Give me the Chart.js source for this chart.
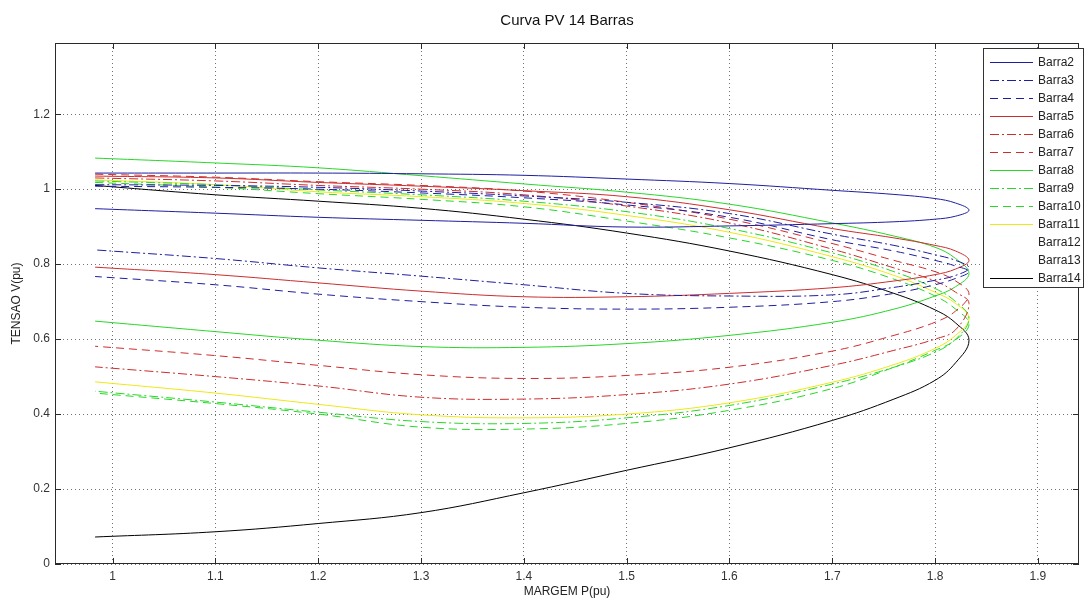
<!DOCTYPE html>
<html lang="pt">
<head>
<meta charset="UTF-8">
<title>Curva PV 14 Barras</title>
<script src="https://cdn.jsdelivr.net/npm/chart.js@4.4.0/dist/chart.umd.min.js"></script>
<style>
  body { margin: 0; background: #fff; }
  canvas { display: block; }
</style>
</head>
<body>
<canvas id="pv" width="1086" height="601"></canvas>
<script>
// margem P (pu): ramo superior ate o nariz, depois o ramo inferior de volta
const margemP = [0.983, 1.1, 1.2, 1.3, 1.4, 1.5, 1.6, 1.7, 1.76, 1.8, 1.82,
                 1.833,
                 1.82, 1.8, 1.76, 1.7, 1.6, 1.5, 1.4, 1.3, 1.2, 1.1, 0.983];

// tensao V (pu) de cada barra, mesma ordem de margemP
const barra2  = [1.043, 1.043, 1.043, 1.041, 1.037, 1.027, 1.015, 0.997, 0.986, 0.975, 0.963,
                 0.944,
                 0.928, 0.920, 0.913, 0.908, 0.902, 0.899, 0.909, 0.917, 0.925, 0.936, 0.948];
const barra3  = [1.012, 1.010, 1.005, 0.995, 0.982, 0.965, 0.935, 0.880, 0.850, 0.825, 0.810,
                 0.790,
                 0.770, 0.757, 0.738, 0.718, 0.715, 0.722, 0.745, 0.768, 0.790, 0.815, 0.838];
const barra4  = [1.008, 1.005, 1.000, 0.990, 0.977, 0.958, 0.925, 0.865, 0.835, 0.810, 0.795,
                 0.780,
                 0.762, 0.745, 0.722, 0.700, 0.685, 0.680, 0.685, 0.700, 0.720, 0.745, 0.767];
const barra5  = [1.035, 1.030, 1.018, 1.008, 0.996, 0.980, 0.945, 0.895, 0.870, 0.850, 0.835,
                 0.810,
                 0.787, 0.772, 0.755, 0.737, 0.722, 0.713, 0.713, 0.728, 0.750, 0.772, 0.792];
const barra6  = [1.030, 1.022, 1.010, 1.000, 0.985, 0.955, 0.910, 0.840, 0.790, 0.755, 0.725,
                 0.695,
                 0.625, 0.600, 0.570, 0.530, 0.480, 0.452, 0.440, 0.445, 0.475, 0.500, 0.526];
const barra7  = [1.040, 1.032, 1.020, 1.010, 0.995, 0.965, 0.920, 0.855, 0.810, 0.780, 0.755,
                 0.720,
                 0.675, 0.645, 0.610, 0.568, 0.525, 0.503, 0.495, 0.505, 0.530, 0.556, 0.581];
const barra8  = [1.083, 1.070, 1.057, 1.036, 1.014, 0.992, 0.960, 0.910, 0.875, 0.845, 0.815,
                 0.775,
                 0.740, 0.715, 0.680, 0.645, 0.610, 0.588, 0.578, 0.580, 0.597, 0.620, 0.648];
const barra9  = [1.022, 1.012, 0.998, 0.985, 0.968, 0.940, 0.895, 0.830, 0.780, 0.735, 0.700,
                 0.655,
                 0.600, 0.565, 0.525, 0.480, 0.423, 0.390, 0.375, 0.380, 0.405, 0.432, 0.461];
const barra10 = [1.018, 1.005, 0.988, 0.973, 0.953, 0.915, 0.870, 0.810, 0.760, 0.715, 0.680,
                 0.640,
                 0.598, 0.570, 0.525, 0.468, 0.410, 0.375, 0.360, 0.365, 0.400, 0.428, 0.456];
const barra11 = [1.025, 1.012, 0.993, 0.980, 0.962, 0.930, 0.885, 0.820, 0.770, 0.725, 0.695,
                 0.655,
                 0.610, 0.575, 0.532, 0.485, 0.430, 0.400, 0.390, 0.398, 0.426, 0.456, 0.486];
const barra12 = [];
const barra13 = [];
const barra14 = [1.010, 0.985, 0.968, 0.949, 0.920, 0.883, 0.835, 0.772, 0.722, 0.678, 0.643,
                 0.597,
                 0.537, 0.490, 0.440, 0.383, 0.310, 0.250, 0.190, 0.137, 0.108, 0.086, 0.072];

const xTicks = [1, 1.1, 1.2, 1.3, 1.4, 1.5, 1.6, 1.7, 1.8, 1.9];
const yTicks = [0, 0.2, 0.4, 0.6, 0.8, 1, 1.2];

const azul = 'rgb(30,30,160)', vermelho = 'rgb(205,45,45)', verde = 'rgb(40,215,40)',
      amarelo = 'rgb(238,232,20)', preto = '#000';
const solido = [], tracejado = [8, 5], tracoPonto = [9, 3, 2, 3];

const series = [
  ['Barra2', barra2, azul, solido],
  ['Barra3', barra3, azul, tracoPonto],
  ['Barra4', barra4, azul, tracejado],
  ['Barra5', barra5, vermelho, solido],
  ['Barra6', barra6, vermelho, tracoPonto],
  ['Barra7', barra7, vermelho, tracejado],
  ['Barra8', barra8, verde, solido],
  ['Barra9', barra9, verde, tracoPonto],
  ['Barra10', barra10, verde, tracejado],
  ['Barra11', barra11, amarelo, solido],
  ['Barra12', barra12, 'rgba(0,0,0,0)', solido],
  ['Barra13', barra13, 'rgba(0,0,0,0)', solido],
  ['Barra14', barra14, preto, solido]
];

const datasets = series.map(function (s) {
  return {
    label: s[0],
    data: s[1].map(function (v, i) { return { x: margemP[i], y: v }; }),
    borderColor: s[2],
    borderDash: s[3],
    borderWidth: 1,
    showLine: true,
    pointRadius: 0,
    tension: 0.4
  };
});

// moldura, marcas internas e legenda no estilo do matlab
const molduraPlugin = {
  id: 'moldura',
  afterDraw(chart) {
    const { ctx, chartArea: a, scales } = chart;
    ctx.save();
    ctx.strokeStyle = '#2a2a2a';
    ctx.lineWidth = 1;
    ctx.strokeRect(a.left + 0.5, a.top + 0.5, a.right - a.left - 1, a.bottom - a.top - 1);
    ctx.beginPath();
    xTicks.forEach(function (v) {
      const px = Math.round(scales.x.getPixelForValue(v)) + 0.5;
      ctx.moveTo(px, a.bottom); ctx.lineTo(px, a.bottom - 6);
      ctx.moveTo(px, a.top); ctx.lineTo(px, a.top + 6);
    });
    yTicks.forEach(function (v) {
      const py = Math.round(scales.y.getPixelForValue(v)) + 0.5;
      ctx.moveTo(a.left, py); ctx.lineTo(a.left + 6, py);
      ctx.moveTo(a.right, py); ctx.lineTo(a.right - 6, py);
    });
    ctx.stroke();

    // legenda
    const lx = 983, ly = 48, lw = 101, lh = 240;
    ctx.fillStyle = '#fff';
    ctx.fillRect(lx, ly, lw, lh);
    ctx.strokeStyle = '#333';
    ctx.strokeRect(lx + 0.5, ly + 0.5, lw - 1, lh - 1);
    ctx.font = '12px "Liberation Sans", Arial, sans-serif';
    ctx.textBaseline = 'middle';
    chart.data.datasets.forEach(function (ds, i) {
      const cy = Math.round(ly + 14 + i * 18) + 0.5;
      if (ds.data.length) {
        ctx.strokeStyle = ds.borderColor;
        ctx.setLineDash(ds.borderDash);
        ctx.beginPath();
        ctx.moveTo(lx + 7, cy); ctx.lineTo(lx + 50, cy);
        ctx.stroke();
        ctx.setLineDash([]);
      }
      ctx.fillStyle = '#222';
      ctx.fillText(ds.label, lx + 55, cy);
    });
    ctx.restore();
  }
};

Chart.defaults.font.family = '"Liberation Sans", Arial, sans-serif';

new Chart(document.getElementById('pv'), {
  type: 'scatter',
  data: { datasets: datasets },
  plugins: [molduraPlugin],
  options: {
    responsive: false,
    animation: false,
    layout: { padding: { right: 7 } },
    plugins: {
      legend: { display: false },
      tooltip: { enabled: false },
      title: {
        display: true,
        text: 'Curva PV 14 Barras',
        fullSize: false,
        color: '#111',
        font: { size: 15, weight: 'normal' },
        padding: { top: 12, bottom: 13 }
      }
    },
    scales: {
      x: {
        type: 'linear',
        min: 0.944,
        max: 1.94,
        afterBuildTicks: function (s) { s.ticks = xTicks.map(function (v) { return { value: v }; }); },
        afterFit: function (s) { s.height = 37; },
        ticks: {
          color: '#333',
          font: { size: 12 },
          padding: 5,
          maxRotation: 0,
          callback: function (v) { return String(+v.toFixed(1)); }
        },
        grid: { color: 'rgba(0,0,0,0.55)', drawTicks: false },
        border: { display: false, dash: [1, 3] },
        title: {
          display: true,
          text: 'MARGEM P(pu)',
          color: '#222',
          font: { size: 12 },
          padding: { top: 0, bottom: 2 }
        }
      },
      y: {
        type: 'linear',
        min: 0,
        max: 1.39,
        afterBuildTicks: function (s) { s.ticks = yTicks.map(function (v) { return { value: v }; }); },
        afterFit: function (s) { s.width = 55; },
        ticks: {
          color: '#333',
          font: { size: 12 },
          padding: 5,
          callback: function (v) { return String(+v.toFixed(1)); }
        },
        grid: { color: 'rgba(0,0,0,0.55)', drawTicks: false },
        border: { display: false, dash: [1, 3] },
        title: {
          display: true,
          text: 'TENSAO V(pu)',
          color: '#222',
          font: { size: 12 },
          padding: { top: 9, bottom: 0 }
        }
      }
    }
  }
});
</script>
</body>
</html>
